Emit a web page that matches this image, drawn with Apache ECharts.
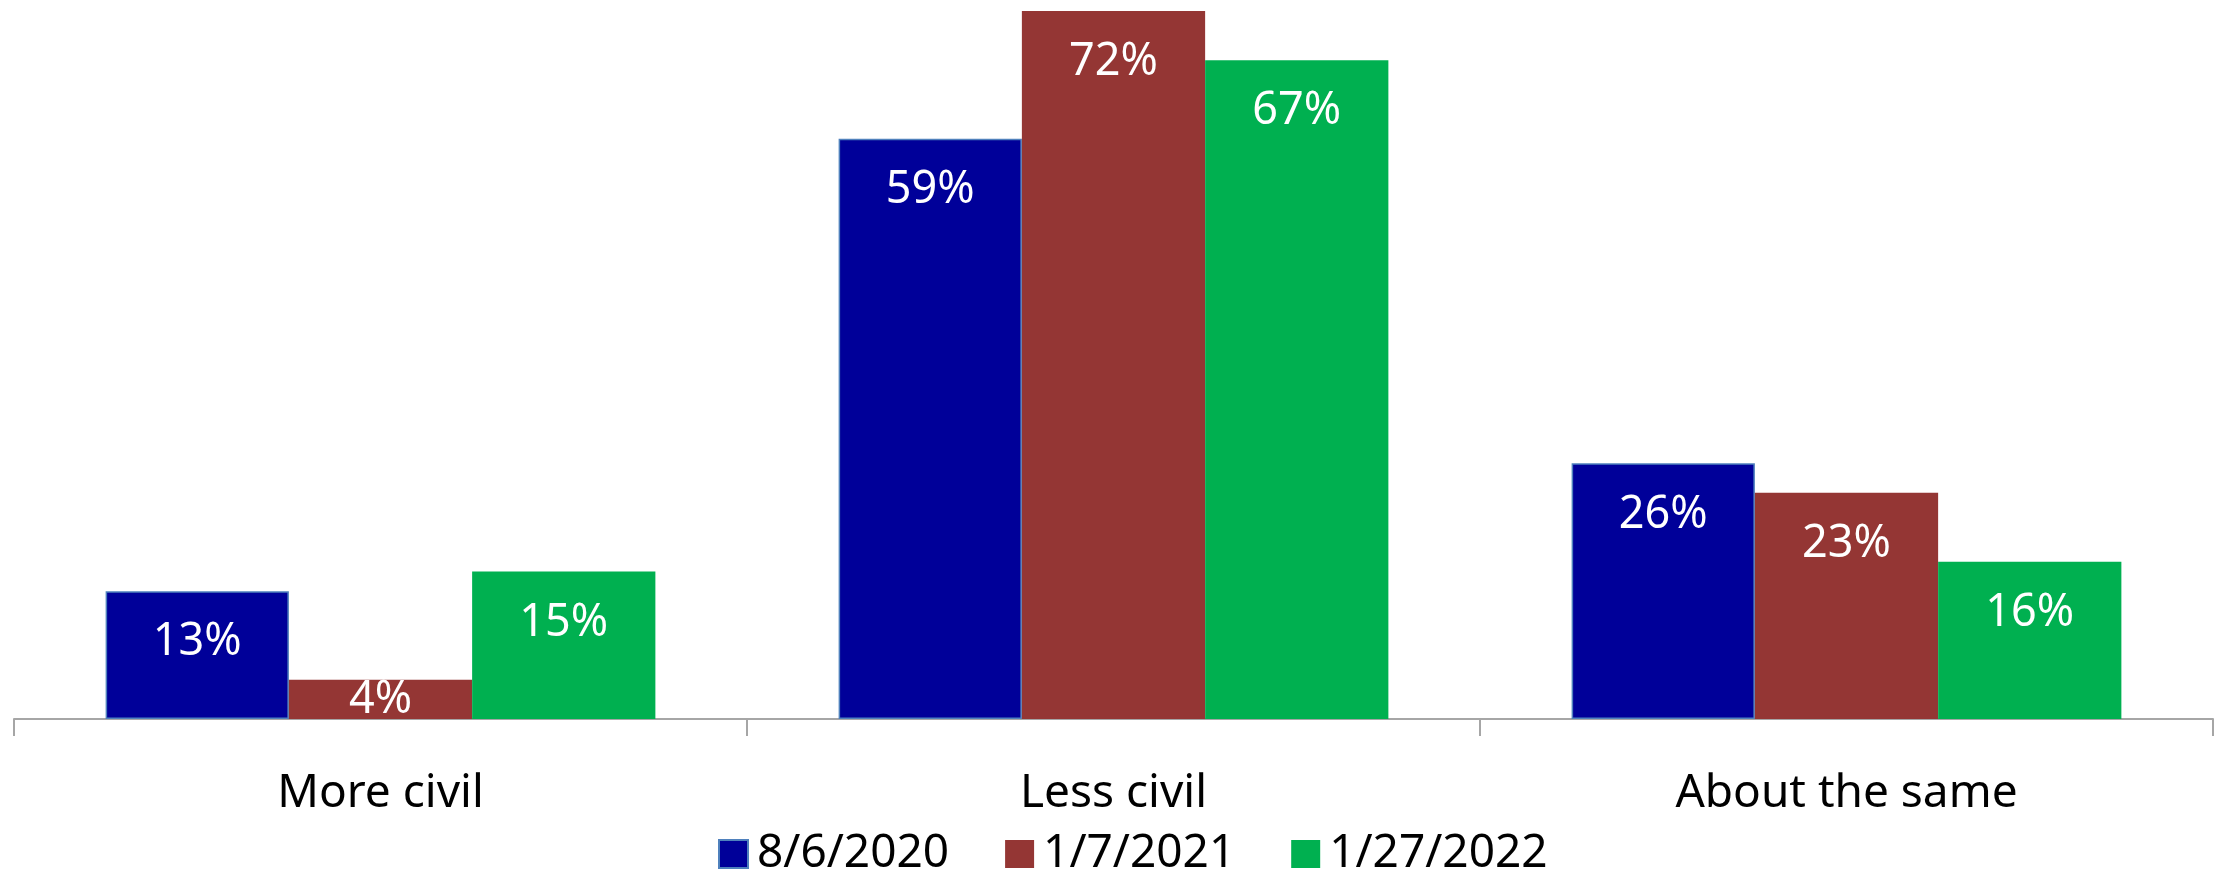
<!DOCTYPE html>
<html>
<head>
<meta charset="utf-8">
<script src="https://cdn.jsdelivr.net/npm/echarts@6/dist/echarts.min.js"></script>
<style>
  html, body { margin: 0; padding: 0; background: #ffffff; }
  #chart { width: 2224px; height: 875px; }
</style>
</head>
<body>
<div id="chart"></div>
<script>
// Survey responses: civility compared with before, by poll date
const categories = ['More civil', 'Less civil', 'About the same'];
const seriesNames = ['8/6/2020', '1/7/2021', '1/27/2022'];
const values2020 = [13, 59, 26];
const values2021 = [4, 72, 23];
const values2022 = [15, 67, 16];
const seriesColors = ['#000099', '#943634', '#00B050'];

const FONT = '"Noto Sans", "Open Sans", sans-serif';

// Bars too short to hold an inside-top label get their label pinned to the base
function buildData(values) {
  return values.map(v => {
    if (v < 8) {
      return { value: v, label: { position: 'insideBottom', distance: -4 } };
    }
    return v;
  });
}

function makeSeries(name, values, color, border) {
  return {
    name: name,
    type: 'bar',
    data: buildData(values),
    barGap: '0%',
    barCategoryGap: '25%',
    itemStyle: border
      ? { color: color, borderColor: '#4f81bd', borderWidth: 1.5 }
      : { color: color },
    label: {
      show: true,
      position: 'insideTop',
      distance: 29,
      color: '#ffffff',
      fontFamily: FONT,
      fontSize: 45,
      formatter: p => p.value + '%'
    },
    emphasis: { disabled: true }
  };
}

const chart = echarts.init(document.getElementById('chart'), null, { renderer: 'canvas' });
chart.setOption({
  animation: false,
  backgroundColor: '#ffffff',
  grid: { left: 14, right: 11, top: 11, bottom: 156, containLabel: false },
  legend: {
    data: seriesNames,
    left: 713,
    top: 826,
    itemWidth: 29,
    itemHeight: 28,
    itemGap: 56,
    icon: 'rect',
    textStyle: { fontFamily: FONT, fontSize: 46, color: '#000000', padding: [0, 0, 0, 4] }
  },
  xAxis: {
    type: 'category',
    data: categories,
    axisLine: { show: true, lineStyle: { color: '#a6a6a6', width: 2 } },
    axisTick: { show: true, length: 17, lineStyle: { color: '#a6a6a6', width: 2 } },
    axisLabel: { margin: 52, fontFamily: FONT, fontSize: 46, color: '#000000' },
    splitLine: { show: false }
  },
  yAxis: {
    type: 'value',
    min: 0,
    max: 72,
    show: false,
    splitLine: { show: false }
  },
  series: [
    makeSeries(seriesNames[0], values2020, seriesColors[0], true),
    makeSeries(seriesNames[1], values2021, seriesColors[1], false),
    makeSeries(seriesNames[2], values2022, seriesColors[2], false)
  ]
});
</script>
</body>
</html>
